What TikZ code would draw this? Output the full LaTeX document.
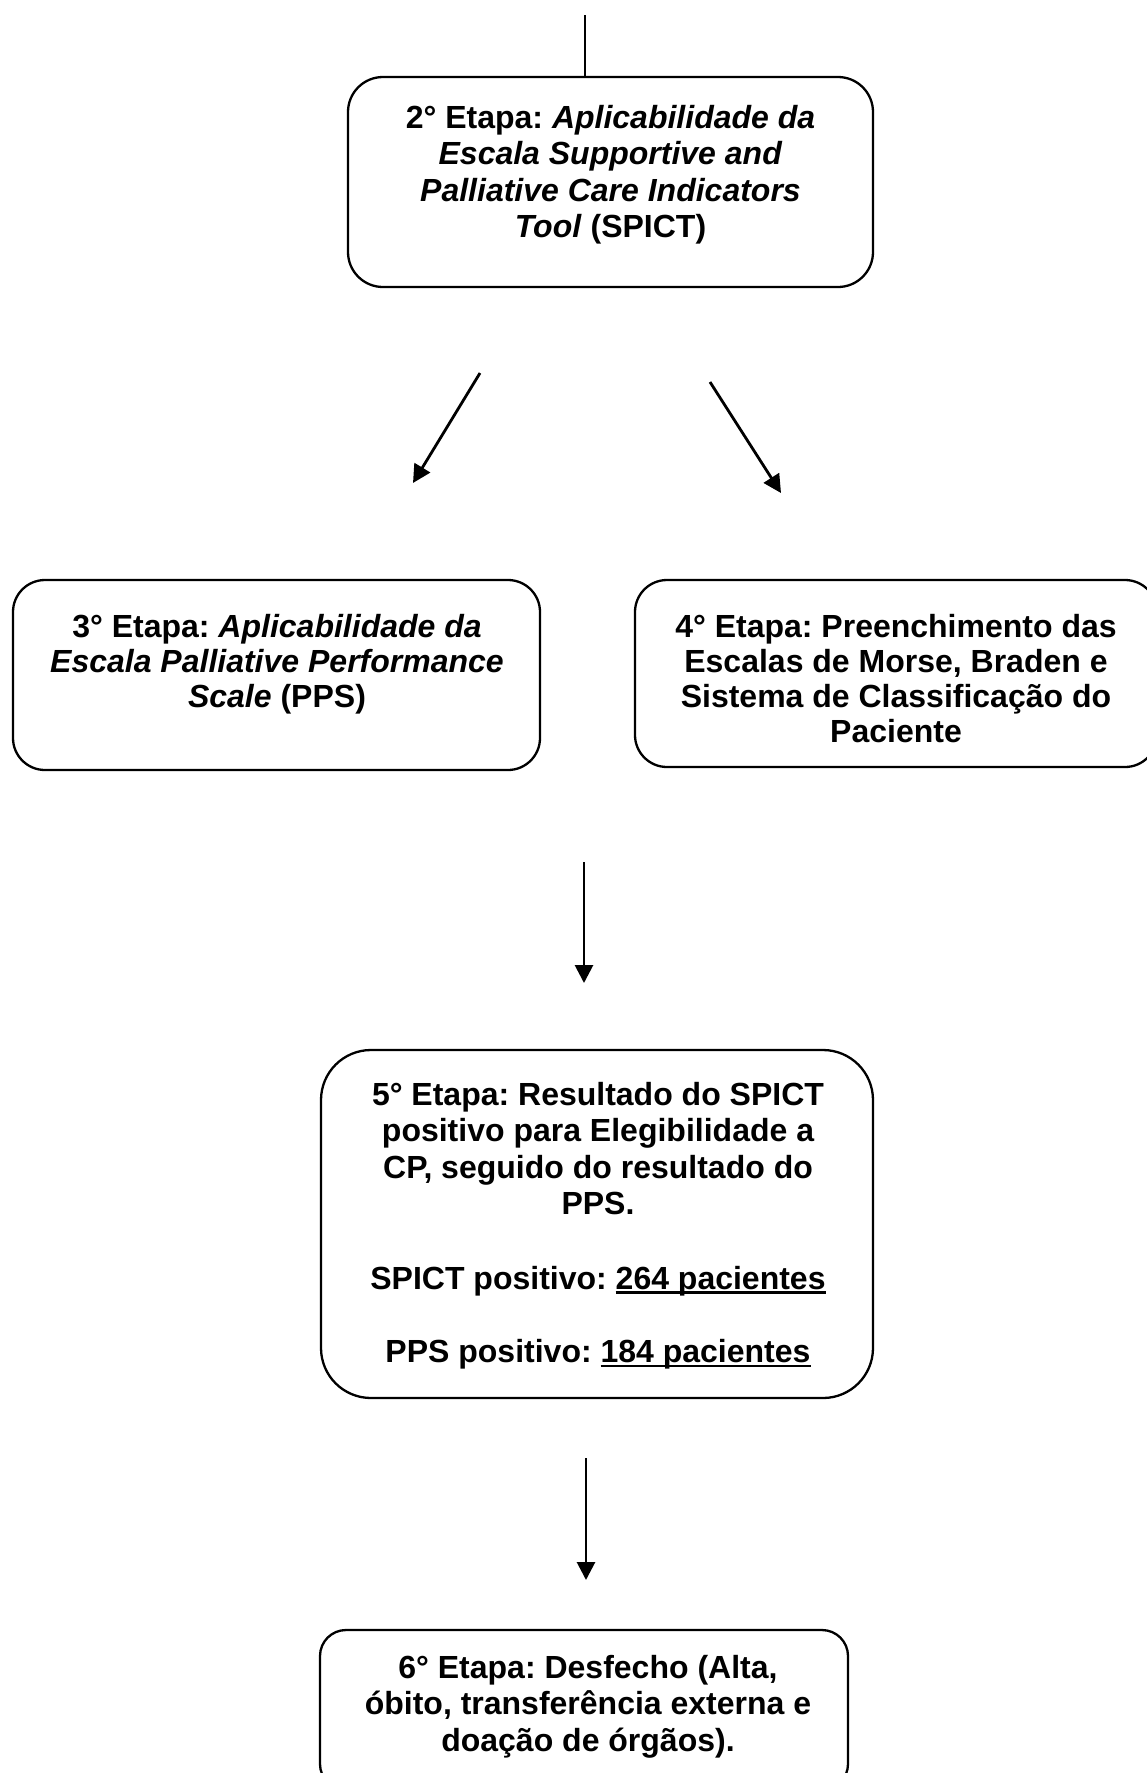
\documentclass[tikz,border=0pt]{standalone}
\usepackage{fontspec}
\setmainfont{Liberation Sans}
\usetikzlibrary{arrows.meta}
\frenchspacing
\newsavebox{\ulbox}
\newcommand\myul[1]{\sbox{\ulbox}{#1}\rlap{\rule[-4.5pt]{\wd\ulbox}{2.5pt}}\usebox{\ulbox}}
\tikzset{
  stepbox/.style={draw, line width=2.3pt, rounded corners=#1, inner sep=0pt},
  txt/.style={anchor=base, inner sep=0pt, font=\fontsize{32}{36.5}\selectfont\bfseries\frenchspacing},
  txtb/.style={anchor=base, inner sep=0pt, font=\fontsize{32}{35}\selectfont\bfseries\frenchspacing},
  arr/.style={line width=2.8pt, -{Triangle[length=18pt,width=18pt]}},
  ln/.style={line width=2.6pt}
}
\begin{document}
\begin{tikzpicture}[x=1pt,y=-1pt]
\useasboundingbox (0,0) rectangle (1147,1773);
% boxes
\node[stepbox=35pt, minimum width=525pt, minimum height=210pt] (b2) at (610.5,182) {};
\node[stepbox=32pt, minimum width=527pt, minimum height=190pt] (b3) at (276.5,675) {};
\node[stepbox=32pt, minimum width=522pt, minimum height=187pt] (b4) at (896,673.5) {};
\node[stepbox=50pt, minimum width=552pt, minimum height=348pt] (b5) at (597,1224) {};
\node[stepbox=26pt, minimum width=528pt, minimum height=160pt] (b6) at (584,1710) {};
% texts
\node[txt] (t2) at (610.5,128) {\begin{tabular}[t]{@{}c@{}}2° Etapa: \textit{Aplicabilidade da}\\ \textit{Escala Supportive and}\\ \textit{Palliative Care Indicators}\\ \textit{Tool} (SPICT)\end{tabular}};
\node[txtb] (t3) at (277,637) {\begin{tabular}[t]{@{}c@{}}3° Etapa: \textit{Aplicabilidade da}\\ \textit{Escala Palliative Performance}\\ \textit{Scale} (PPS)\end{tabular}};
\node[txtb] (t4) at (896,637) {\begin{tabular}[t]{@{}c@{}}4° Etapa: Preenchimento das\\ Escalas de Morse, Braden e\\ Sistema de Classificação do\\ Paciente\end{tabular}};
\node[txt] (t5) at (598,1105) {\begin{tabular}[t]{@{}c@{}}5° Etapa: Resultado do SPICT\\ positivo para Elegibilidade a\\ CP, seguido do resultado do\\ PPS.\\[38pt] SPICT positivo: \myul{264 pacientes}\\[37pt] PPS positivo: \myul{184 pacientes}\end{tabular}};
\node[txt] (t6) at (588,1678) {\begin{tabular}[t]{@{}c@{}}6° Etapa: Desfecho (Alta,\\ óbito, transferência externa e\\ doação de órgãos).\end{tabular}};
% connectors
\coordinate (top) at (585,15);
\draw[ln] (top) -- (top |- b2.north);
\coordinate (l1s) at (480,373);
\coordinate (l1e) at (413,483);
\draw[arr] (l1s) -- (l1e);
\coordinate (r1s) at (710,382);
\coordinate (r1e) at (781,493);
\draw[arr] (r1s) -- (r1e);
\coordinate (m1s) at (584,862);
\coordinate (m1e) at (584,983);
\draw[arr] (m1s) -- (m1e);
\coordinate (m2s) at (586,1458);
\coordinate (m2e) at (586,1580);
\draw[arr] (m2s) -- (m2e);
\end{tikzpicture}
\end{document}
